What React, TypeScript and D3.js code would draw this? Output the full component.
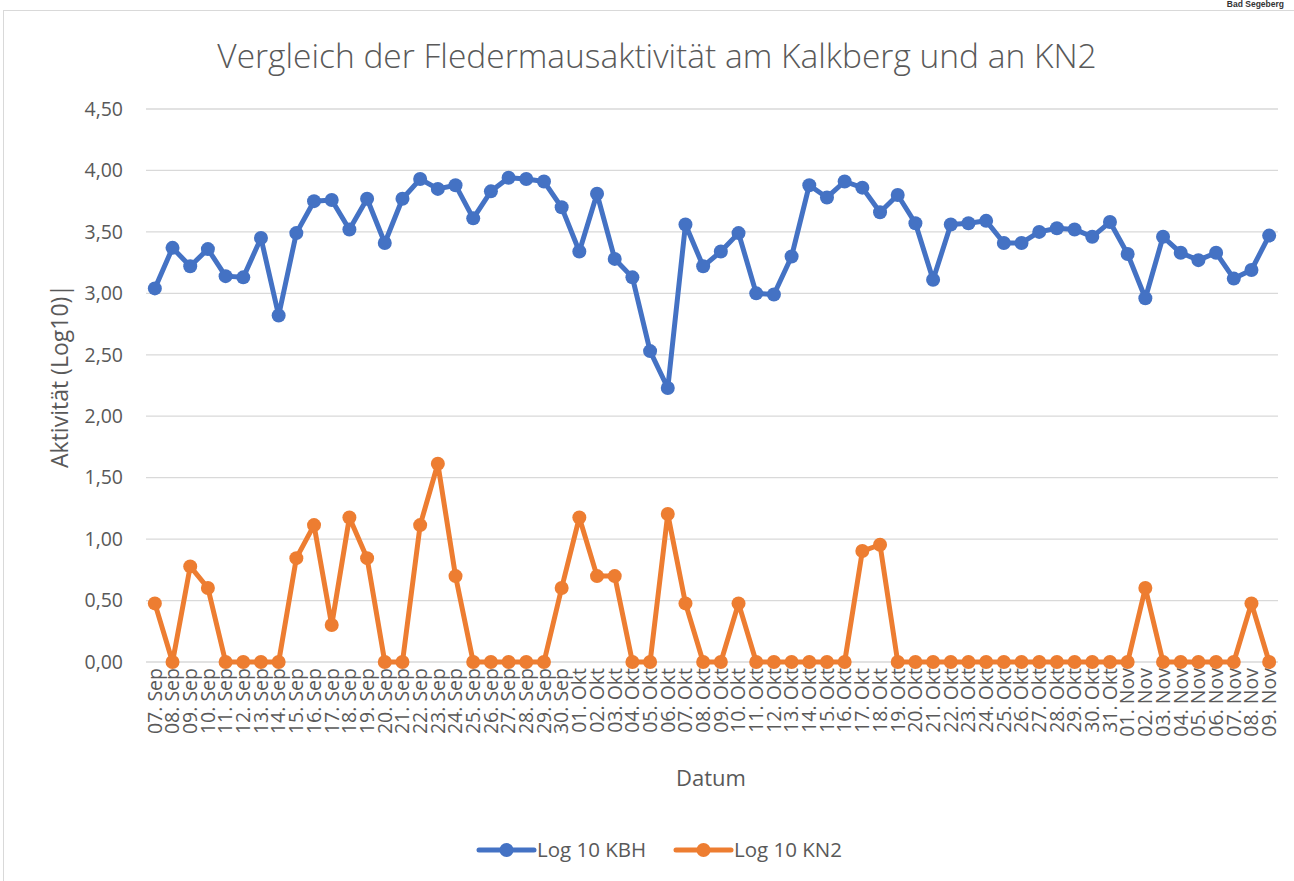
import React from "react";
import * as d3 from "d3";

const dates: string[] = [
  "07. Sep", "08. Sep", "09. Sep", "10. Sep", "11. Sep", "12. Sep", "13. Sep", "14. Sep",
  "15. Sep", "16. Sep", "17. Sep", "18. Sep", "19. Sep", "20. Sep", "21. Sep", "22. Sep",
  "23. Sep", "24. Sep", "25. Sep", "26. Sep", "27. Sep", "28. Sep", "29. Sep", "30. Sep",
  "01. Okt", "02. Okt", "03. Okt", "04. Okt", "05. Okt", "06. Okt", "07. Okt", "08. Okt",
  "09. Okt", "10. Okt", "11. Okt", "12. Okt", "13. Okt", "14. Okt", "15. Okt", "16. Okt",
  "17. Okt", "18. Okt", "19. Okt", "20. Okt", "21. Okt", "22. Okt", "23. Okt", "24. Okt",
  "25. Okt", "26. Okt", "27. Okt", "28. Okt", "29. Okt", "30. Okt", "31. Okt", "01. Nov",
  "02. Nov", "03. Nov", "04. Nov", "05. Nov", "06. Nov", "07. Nov", "08. Nov", "09. Nov",
];

const kbh: number[] = [
  3.04, 3.37, 3.22, 3.36, 3.14, 3.13, 3.45, 2.82,
  3.49, 3.75, 3.76, 3.52, 3.77, 3.41, 3.77, 3.93,
  3.85, 3.88, 3.61, 3.83, 3.94, 3.93, 3.91, 3.70,
  3.34, 3.81, 3.28, 3.13, 2.53, 2.23, 3.56, 3.22,
  3.34, 3.49, 3.00, 2.99, 3.30, 3.88, 3.78, 3.91,
  3.86, 3.66, 3.80, 3.57, 3.11, 3.56, 3.57, 3.59,
  3.41, 3.41, 3.50, 3.53, 3.52, 3.46, 3.58, 3.32,
  2.96, 3.46, 3.33, 3.27, 3.33, 3.12, 3.19, 3.47,
];

const kn2: number[] = [
  0.477, 0, 0.778, 0.602, 0, 0, 0, 0,
  0.845, 1.114, 0.301, 1.176, 0.845, 0, 0, 1.114,
  1.613, 0.699, 0, 0, 0, 0, 0, 0.602,
  1.176, 0.699, 0.699, 0, 0, 1.204, 0.477, 0,
  0, 0.477, 0, 0, 0, 0, 0, 0,
  0.903, 0.954, 0, 0, 0, 0, 0, 0,
  0, 0, 0, 0, 0, 0, 0, 0,
  0.602, 0, 0, 0, 0, 0, 0.477, 0,
];

const yTicks: number[] = [0, 0.5, 1, 1.5, 2, 2.5, 3, 3.5, 4, 4.5];

const seriesNames: string[] = ["Log 10 KBH", "Log 10 KN2"];
const seriesColors: string[] = ["#4472C4", "#ED7D31"];

const W = 1294;
const H = 881;
const FONT = "'Open Sans', 'Noto Sans', sans-serif";
const TXT = "#595959";

export default function App() {
  const x = d3.scaleBand<string>().domain(dates).range([146, 1278]).padding(0);
  const y = d3.scaleLinear().domain([0, 4.5]).range([662, 109]);
  const cx = (d: string) => (x(d) as number) + x.bandwidth() / 2;
  const fmt = (v: number) => v.toFixed(2).replace(".", ",");

  const line = d3
    .line<number>()
    .x((_, i) => cx(dates[i]))
    .y((v) => y(v));

  const series = [kbh, kn2];

  return (
    <svg
      width={W}
      height={H}
      style={{ position: "absolute", left: 0, top: 0, background: "#fff" }}
      fontFamily={FONT}
    >
      <rect x={0} y={0} width={W} height={H} fill="#fff" />
      <rect x={3.5} y={10.5} width={W + 20} height={H + 20} fill="#fff" stroke="#d9d9d9" strokeWidth={1} />
      <text x={1284} y={7} textAnchor="end" fontSize={8.5} fontWeight="bold" fill="#333" fontFamily="'Liberation Sans Narrow', 'Liberation Sans', sans-serif">
        Bad Segeberg
      </text>

      <text x={657} y={56} textAnchor="middle" dy="0.35em" fontSize={33.5} fill={TXT} fontWeight={300}>
        Vergleich der Fledermausaktivität am Kalkberg und an KN2
      </text>

      {yTicks.map((t) => (
        <g key={t}>
          <line x1={146} x2={1278} y1={y(t)} y2={y(t)} stroke="#d9d9d9" strokeWidth={1.3} />
          <text x={123} y={y(t)} dy="0.35em" textAnchor="end" fontSize={19.5} fill={TXT}>
            {fmt(t)}
          </text>
        </g>
      ))}

      {dates.map((d) => (
        <text
          key={d}
          transform={`translate(${cx(d)},668) rotate(-90)`}
          dy="0.35em"
          textAnchor="end"
          fontSize={19.5}
          fill={TXT}
        >
          {d}
        </text>
      ))}

      <text transform="translate(60,376) rotate(-90)" textAnchor="middle" dy="0.35em" fontSize={23} fill={TXT}>
        Aktivität (Log10)|
      </text>
      <text x={711} y={778} textAnchor="middle" dy="0.35em" fontSize={22} fill={TXT}>
        Datum
      </text>

      {series.map((s, si) => (
        <g key={si}>
          <path d={line(s) || ""} fill="none" stroke={seriesColors[si]} strokeWidth={5} strokeLinejoin="round" strokeLinecap="round" />
          {s.map((v, i) => (
            <circle key={i} cx={cx(dates[i])} cy={y(v)} r={7} fill={seriesColors[si]} />
          ))}
        </g>
      ))}

      {seriesNames.map((n, i) => {
        const x0 = i === 0 ? 479 : 676;
        return (
          <g key={n}>
            <line x1={x0} x2={x0 + 55} y1={850} y2={850} stroke={seriesColors[i]} strokeWidth={5} strokeLinecap="round" />
            <circle cx={x0 + 27.5} cy={850} r={7} fill={seriesColors[i]} />
            <text x={x0 + 58} y={850} dy="0.35em" fontSize={20.5} fill={TXT}>
              {n}
            </text>
          </g>
        );
      })}
    </svg>
  );
}
